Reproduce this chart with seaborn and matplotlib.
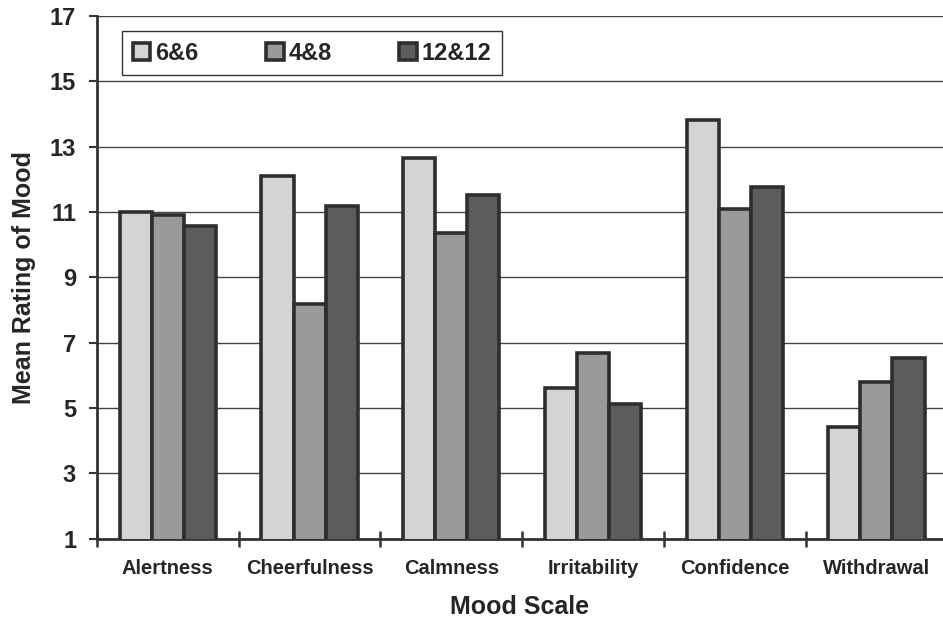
import matplotlib
matplotlib.use("Agg")
import matplotlib.pyplot as plt
import seaborn as sns
import pandas as pd

# Mood scale means for the three sleep schedules
scales = ["Alertness", "Cheerfulness", "Calmness", "Irritability", "Confidence", "Withdrawal"]
series = ["6&6", "4&8", "12&12"]
vals_6_6 = [11.0, 12.1, 12.65, 5.6, 13.82, 4.42]
vals_4_8 = [10.9, 8.17, 10.36, 6.69, 11.09, 5.78]
vals_12_12 = [10.56, 11.17, 11.51, 5.13, 11.77, 6.52]
colors = ["#d4d4d4", "#9a9a9a", "#5c5c5c"]

df = pd.DataFrame({
    "scale": scales * 3,
    "schedule": [s for s in series for _ in scales],
    "rating": vals_6_6 + vals_4_8 + vals_12_12,
})

sns.set_theme(style="white")
plt.rcParams["font.family"] = ["Liberation Sans", "DejaVu Sans"]
plt.rcParams["font.weight"] = "bold"
plt.rcParams["text.color"] = "#262626"
plt.rcParams["axes.labelcolor"] = "#262626"
plt.rcParams["xtick.color"] = "#262626"
plt.rcParams["ytick.color"] = "#262626"

W, H = 943, 621
fig = plt.figure(figsize=(W / 100, H / 100), dpi=100)
ax_left, ax_top, ax_bottom, ax_right = 97, 16, 538.5, 943
ax = fig.add_axes([ax_left / W, 1 - ax_bottom / H, (ax_right - ax_left) / W, (ax_bottom - ax_top) / H])

sns.barplot(data=df, x="scale", y="rating", hue="schedule", order=scales, hue_order=series,
            palette=colors, width=0.68, gap=0, edgecolor="#2e2e2e", linewidth=2.6,
            ax=ax, zorder=3, errorbar=None)

ax.set_ylim(1, 17)
ax.set_yticks(range(1, 18, 2))
ax.set_xlim(-0.5, 5.47)
ax.yaxis.grid(True, color="#444444", linewidth=1.0, zorder=0)
ax.set_axisbelow(True)

for side in ["top", "right"]:
    ax.spines[side].set_visible(False)
for side in ["left", "bottom"]:
    ax.spines[side].set_color("#333333")
    ax.spines[side].set_linewidth(2)

ax.tick_params(axis="y", which="major", direction="out", length=6, width=1.5, color="#333333",
               labelsize=17, pad=9, left=True)
ax.set_xticks(range(len(scales)))
ax.set_xticklabels(scales, fontsize=14.5, fontweight="bold")
ax.tick_params(axis="x", which="major", length=0, pad=15)
ax.set_xticks([i - 0.5 for i in range(len(scales))], minor=True)
ax.tick_params(axis="x", which="minor", direction="inout", length=11, width=1.8, color="#333333", bottom=True)
for lbl in ax.get_yticklabels():
    lbl.set_fontweight("bold")

ax.set_xlabel("Mood Scale", fontsize=18, fontweight="bold", labelpad=12)
ax.set_ylabel("Mean Rating of Mood", fontsize=18, fontweight="bold", labelpad=10)

handles, labels = ax.get_legend_handles_labels()
ax.legend(handles, labels, ncol=3, loc="upper left", mode="expand",
          bbox_to_anchor=(0.0295, 0.971, 0.449, 0.0), borderaxespad=0, frameon=True, fancybox=False,
          edgecolor="#333333", framealpha=1, prop={"size": 17, "weight": "bold"},
          handlelength=0.75, handleheight=0.75, handletextpad=0.2, borderpad=0.45,
          columnspacing=1.0)
ax.get_legend().get_frame().set_linewidth(1.0)

fig.savefig("out.png", dpi=100)
